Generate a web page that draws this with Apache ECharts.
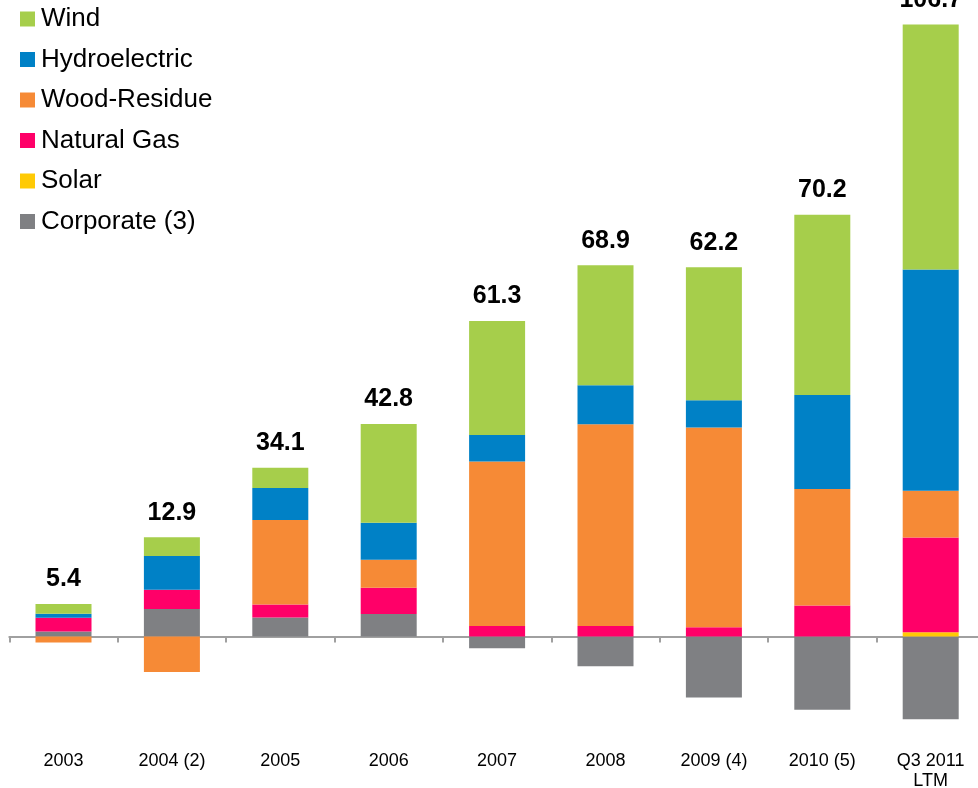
<!DOCTYPE html>
<html>
<head>
<meta charset="utf-8">
<script src="https://cdn.jsdelivr.net/npm/echarts@6/dist/echarts.min.js"></script>
<style>
html,body{margin:0;padding:0;background:#fff;}
#chart{width:978px;height:788px;}
</style>
</head>
<body>
<div id="chart"></div>
<script>
const categories = ['2003','2004 (2)','2005','2006','2007','2008','2009 (4)','2010 (5)','Q3 2011\nLTM'];
const corporate = [1.05, 5.54, 3.87, 4.54, -2.36, -5.99, -12.3, -14.76, -16.67];
const solar     = [0, 0, 0, 0, 0, 0, 0, 0, 0.87];
const naturalGas= [2.74, 3.89, 2.62, 5.30, 2.14, 2.14, 1.88, 6.27, 19.1];
const woodResidue=[-1.17, -7.16, 17.0, 5.65, 33.15, 40.67, 40.26, 23.5, 9.42];
const hydro     = [0.8, 6.8, 6.45, 7.46, 5.36, 7.86, 5.5, 18.93, 44.62];
const wind      = [1.96, 3.8, 4.09, 19.9, 22.98, 24.19, 26.81, 36.35, 49.4];
const totals    = ['5.4','12.9','34.1','42.8','61.3','68.9','62.2','70.2','106.7'];

const chart = echarts.init(document.getElementById('chart'), null, {renderer:'canvas'});
const font = 'Liberation Sans, Arial, sans-serif';
function bar(name, data, color, extra) {
  return Object.assign({
    name: name, type: 'bar', stack: 'total', data: data, barWidth: 56,
    xAxisIndex: 0, yAxisIndex: 0,
    itemStyle: {color: color},
    emphasis: {disabled: true}
  }, extra || {});
}
chart.setOption({
  animation: false,
  textStyle: {fontFamily: font},
  grid: {left: 9.3, width: 975.6, top: 1.7, bottom: 52.2, containLabel: false, outerBoundsMode: 'none'},
  legend: {
    orient: 'vertical', left: 15, top: 1, itemGap: 14.5,
    itemWidth: 15, itemHeight: 15, icon: 'rect',
    textStyle: {fontSize: 26, color: '#000', fontFamily: font, padding: [0, 0, 0, 1]},
    data: ['Wind','Hydroelectric','Wood-Residue','Natural Gas','Solar','Corporate (3)']
  },
  xAxis: [
    {type: 'category', data: categories, boundaryGap: true,
     axisLine: {onZero: true, lineStyle: {color: '#A0A0A0', width: 2}},
     axisTick: {show: true, length: 6, lineStyle: {color: '#A0A0A0', width: 2}},
     axisLabel: {show: false}},
    {type: 'category', data: categories, position: 'bottom', boundaryGap: true,
     axisLine: {show: false, onZero: false}, axisTick: {show: false},
     axisLabel: {show: true, margin: 15, fontSize: 18, lineHeight: 20, color: '#000', fontFamily: font, interval: 0}}
  ],
  yAxis: {type: 'value', min: -20, max: 128,
    axisLine: {show: false}, axisTick: {show: false}, axisLabel: {show: false}, splitLine: {show: false}},
  series: [
    bar('Corporate (3)', corporate, '#7F8083'),
    bar('Solar', solar, '#FFCA05'),
    bar('Natural Gas', naturalGas, '#FF0068'),
    bar('Wood-Residue', woodResidue, '#F68A36'),
    bar('Hydroelectric', hydro, '#0081C6'),
    bar('Wind', wind, '#A6CE4B', {
      label: {show: true, position: 'top', distance: 12,
        formatter: p => totals[p.dataIndex],
        fontSize: 25, fontWeight: 'bold', color: '#000', fontFamily: font}
    })
  ]
});
</script>
</body>
</html>
